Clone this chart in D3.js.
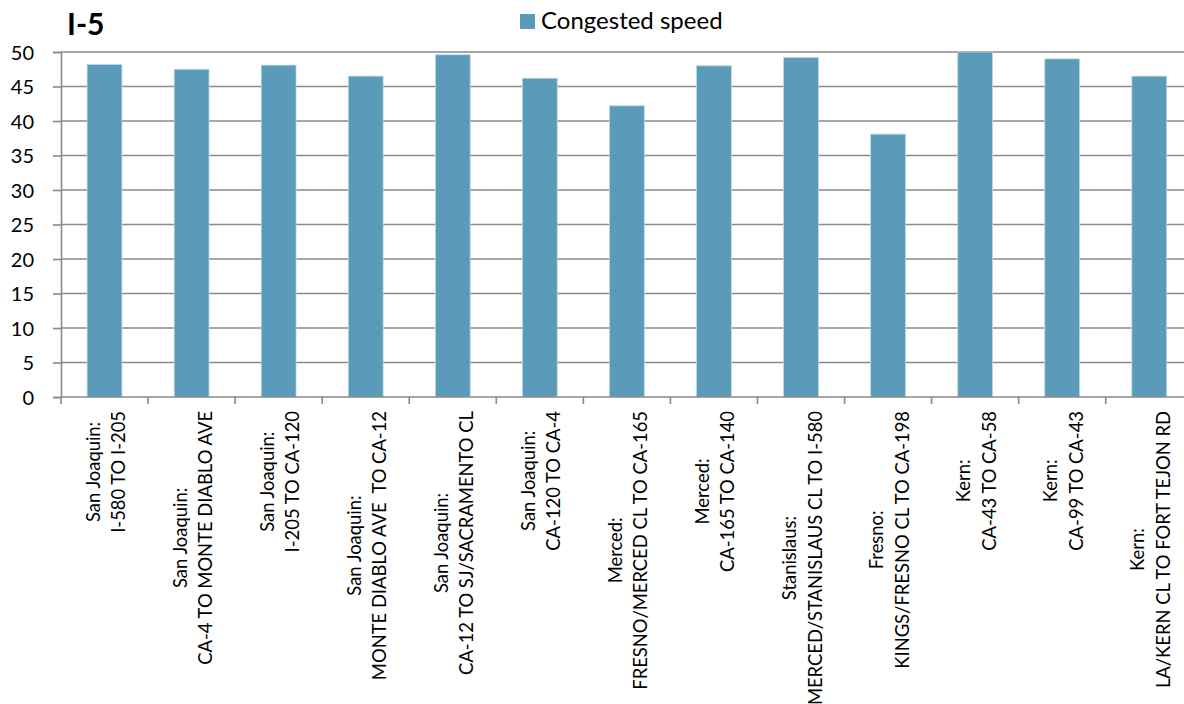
<!DOCTYPE html>
<html>
<head>
<meta charset="utf-8">
<script src="https://cdn.jsdelivr.net/npm/d3@7"></script>
<style>
  html, body { margin: 0; padding: 0; background: #fff; }
  svg { display: block; font-family: Lato, "Open Sans", sans-serif; }
  .xlab text { white-space: pre; }
</style>
</head>
<body>
<svg id="chart" width="1184" height="704"></svg>
<script>
// Corridor segments along I-5 (county, then segment)
const counties = [
  "San Joaquin:", "San Joaquin:", "San Joaquin:", "San Joaquin:", "San Joaquin:",
  "San Joaquin:", "Merced:", "Merced:", "Stanislaus:", "Fresno:", "Kern:", "Kern:", "Kern:"
];
const segments = [
  "I-580 TO I-205",
  "CA-4 TO MONTE DIABLO AVE",
  "I-205 TO CA-120",
  "MONTE DIABLO AVE  TO CA-12",
  "CA-12 TO SJ/SACRAMENTO CL",
  "CA-120 TO CA-4",
  "FRESNO/MERCED CL TO CA-165",
  "CA-165 TO CA-140",
  "MERCED/STANISLAUS CL TO I-580",
  "KINGS/FRESNO CL TO CA-198",
  "CA-43 TO CA-58",
  "CA-99 TO CA-43",
  "LA/KERN CL TO FORT TEJON RD"
];
// Congested speed (mph)
const congestedSpeed = [48.2, 47.5, 48.1, 46.5, 49.6, 46.2, 42.2, 48.0, 49.2, 38.1, 50.0, 49.0, 46.5];
const yTicks = [0, 5, 10, 15, 20, 25, 30, 35, 40, 45, 50];

const svg = d3.select("#chart");
const plotLeft = 61, plotTop = 52, plotBottom = 397;
const step = 87.06;
const plotRight = plotLeft + step * counties.length;

const x = d3.scaleBand()
  .domain(d3.range(counties.length))
  .range([plotLeft, plotRight])
  .paddingInner(0.6)
  .paddingOuter(0.3);

const y = d3.scaleLinear().domain([0, 50]).range([plotBottom, plotTop]);

const gridColor = "#8a8a8a";

// Horizontal gridlines
svg.append("g")
  .selectAll("line")
  .data(yTicks.filter(d => d > 0))
  .join("line")
  .attr("x1", plotLeft).attr("x2", plotRight)
  .attr("y1", d => y(d)).attr("y2", d => y(d))
  .attr("stroke", gridColor).attr("stroke-width", 1.6);

// Y axis
const yAxis = svg.append("g")
  .attr("transform", `translate(${plotLeft},0)`)
  .call(d3.axisLeft(y).tickValues(yTicks).tickSize(8).tickPadding(19));
yAxis.select(".domain").attr("stroke", gridColor).attr("stroke-width", 1.6);
yAxis.selectAll(".tick line").attr("stroke", gridColor).attr("stroke-width", 1.6);
yAxis.selectAll(".tick text")
  .attr("font-family", "Lato, sans-serif")
  .attr("font-size", 20)
  .attr("fill", "#000")
  .attr("dy", "0.36em");

// Bars
svg.append("g")
  .selectAll("rect")
  .data(congestedSpeed)
  .join("rect")
  .attr("x", (d, i) => x(i))
  .attr("width", x.bandwidth())
  .attr("y", d => y(d))
  .attr("height", d => y(0) - y(d))
  .attr("fill", "#5b9bba")
  .attr("stroke", "#bcd8e6")
  .attr("stroke-width", 0.8);

// Baseline and category tick marks
svg.append("line")
  .attr("x1", plotLeft).attr("x2", plotRight)
  .attr("y1", plotBottom).attr("y2", plotBottom)
  .attr("stroke", gridColor).attr("stroke-width", 1.6);
svg.append("g")
  .selectAll("line")
  .data(d3.range(counties.length + 1))
  .join("line")
  .attr("x1", i => plotLeft + i * x.step()).attr("x2", i => plotLeft + i * x.step())
  .attr("y1", plotBottom).attr("y2", plotBottom + 7)
  .attr("stroke", gridColor).attr("stroke-width", 1.6);

// Rotated two-line category labels
const labTop = 411;
const labels = svg.append("g").attr("class", "xlab")
  .selectAll("g")
  .data(d3.range(counties.length))
  .join("g")
  .attr("transform", i => `translate(${x(i) + x.bandwidth() / 2},${labTop}) rotate(-90)`);

labels.each(function(i) {
  const g = d3.select(this);
  const lines = [counties[i], segments[i]];
  const texts = lines.map((t, k) => g.append("text")
    .attr("font-family", "Lato, sans-serif")
    .attr("font-size", 18.4)
    .attr("fill", "#000")
    .attr("text-anchor", "middle")
    .attr("y", k === 0 ? -5 : 20.5)
    .text(t));
  const maxLen = d3.max(texts, t => t.node().getComputedTextLength());
  texts.forEach(t => t.attr("x", -maxLen / 2));
});

// Title
svg.append("text")
  .attr("x", 67).attr("y", 35)
  .attr("font-family", "Lato, sans-serif")
  .attr("font-weight", "bold")
  .attr("font-size", 30)
  .attr("fill", "#000")
  .text("I-5");

// Legend
svg.append("rect")
  .attr("x", 520).attr("y", 14).attr("width", 15).attr("height", 15)
  .attr("fill", "#5b9bba");
svg.append("text")
  .attr("x", 541).attr("y", 28.5)
  .attr("font-family", "Lato, sans-serif")
  .attr("font-size", 24)
  .attr("fill", "#000")
  .text("Congested speed");
</script>
</body>
</html>
